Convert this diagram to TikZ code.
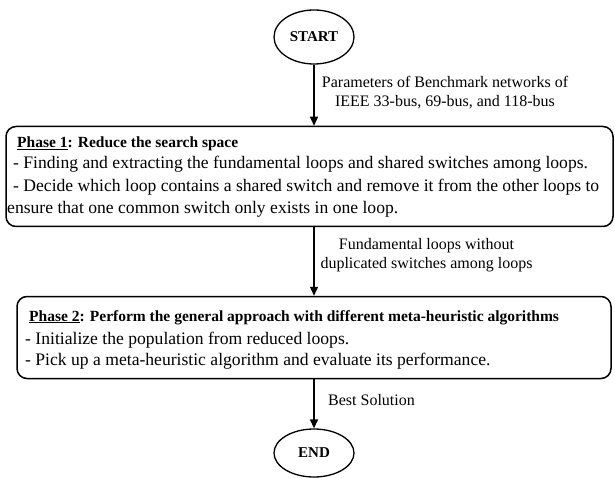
\documentclass[tikz,border=0pt]{standalone}
\usepackage{fontspec}
\setmainfont{Liberation Serif}
\usetikzlibrary{arrows.meta,shapes.geometric}
\begin{document}
\begin{tikzpicture}[x=1pt,y=-1pt,
  term/.style={draw, line width=1.3pt, ellipse, minimum width=80pt, minimum height=54pt, inner sep=0pt, font=\fontsize{15}{18}\selectfont\bfseries},
  phasebox/.style={draw, line width=1.5pt, rounded corners=10pt, inner sep=0pt},
  txt/.style={anchor=base west, inner sep=0pt, font=\fontsize{17.6}{21}\selectfont},
  head/.style={anchor=base west, inner sep=0pt, font=\fontsize{15.5}{19}\selectfont\bfseries},
  lbl/.style={align=center, inner sep=0pt, font=\fontsize{16}{19}\selectfont},
  arr/.style={line width=1.3pt, -{Stealth[length=9pt,width=8pt,inset=0pt]}}
]
\useasboundingbox (0,0) rectangle (615,478);

\node[term] (start) at (314,37) {START};
\node[term, minimum height=48pt] (end) at (314,453) {END};

\node[phasebox, minimum width=607pt, minimum height=100pt] (p1) at (309.5,176.5) {};
\node[head] (p1a) at (17,147.5) {\underline{Phase 1}: Reduce the search space};
\node[txt] (p1b) at (13,169) {- Finding and extracting the fundamental loops and shared switches among loops.};
\node[txt] (p1c) at (13,191.5) {- Decide which loop contains a shared switch and remove it from the other loops to};
\node[txt] (p1d) at (7,213.5) {ensure that one common switch only exists in one loop.};

\node[phasebox, minimum width=594pt, minimum height=82pt] (p2) at (314,337.5) {};
\node[head] (p2a) at (29,321) {\underline{Phase 2}: Perform the general approach with different meta-heuristic algorithms};
\node[txt] (p2b) at (25,344.5) {- Initialize the population from reduced loops.};
\node[txt] (p2c) at (25,365) {- Pick up a meta-heuristic algorithm and evaluate its performance.};

\draw[arr] (start.south) -- (start.south |- p1.north);
\draw[arr] (start.south |- p1.south) -- (start.south |- p2.north);
\draw[arr] (start.south |- p2.south) -- (end.north);

\node[lbl] (l1) at (445,92.5) {Parameters of Benchmark networks of\\IEEE 33-bus, 69-bus, and 118-bus};
\node[lbl] (l2) at (426.5,255) {Fundamental loops without\\duplicated switches among loops};
\node[lbl, anchor=west] (l3) at (328,400) {Best Solution};
\end{tikzpicture}
\end{document}
